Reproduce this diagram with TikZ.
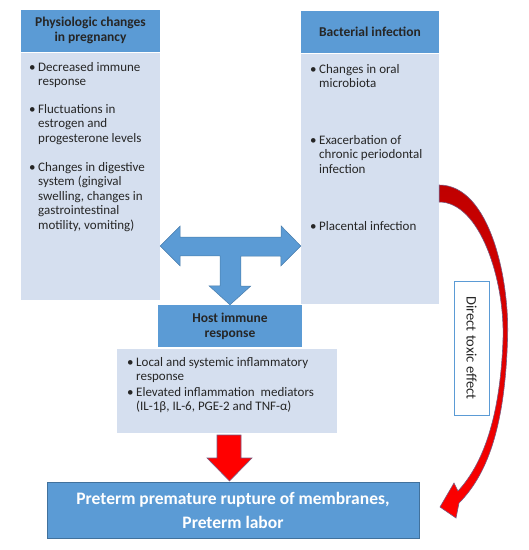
\documentclass[tikz,border=0pt]{standalone}
\usepackage{fontspec}
\setmainfont{Carlito}
\usetikzlibrary{calc}

\definecolor{headblue}{HTML}{5B9BD5}
\definecolor{bodyblue}{HTML}{D5DFEF}
\definecolor{edgeblue}{HTML}{41719C}
\definecolor{edgered}{HTML}{7A5A80}

\newcommand{\bitem}[2]{\makebox[9pt][l]{\textbullet}\parbox[t]{#1}{\raggedright #2}}

\tikzset{
    head/.style={fill=headblue, minimum height=42pt, align=center, inner sep=0pt,
        font=\fontsize{13.5}{15}\selectfont\bfseries, text=black!85},
    body/.style={fill=bodyblue, inner sep=0pt},
    itemtext/.style={anchor=base west, inner sep=0pt,
        font=\fontsize{13}{14.5}\selectfont, text=black!85},
    blockblue/.style={fill=headblue, draw=headblue!80!black, line width=0.5pt},
    blockred/.style={fill=red, draw=edgered, line width=0.6pt},
}

\begin{document}
\begin{tikzpicture}[x=1pt, y=-1pt]
    \useasboundingbox (0,0) rectangle (529,550);

    % columns
    \node[head, minimum width=139pt] (physhead) at (90.5,30.5) {Physiologic changes\\in pregnancy};
    \node[body, minimum width=139pt, minimum height=247pt] (physbody) at (90.5,176.5) {};
    \node[head, minimum width=138pt] (bacthead) at (370,32) {Bacterial infection};
    \node[body, minimum width=138pt, minimum height=250pt] (bactbody) at (370,179) {};

    \node[itemtext] (phys1) at (29,71) {\bitem{120pt}{Decreased immune\\response}};
    \node[itemtext] (phys2) at (29,113) {\bitem{120pt}{Fluctuations in\\estrogen and\\progesterone levels}};
    \node[itemtext] (phys3) at (29,171) {\bitem{120pt}{Changes in digestive\\system (gingival\\swelling, changes in\\gastrointestinal\\motility, vomiting)}};

    \node[itemtext] (bact1) at (310,73) {\bitem{120pt}{Changes in oral\\microbiota}};
    \node[itemtext] (bact2) at (310,144) {\bitem{120pt}{Exacerbation of\\chronic periodontal\\infection}};
    \node[itemtext] (bact3) at (310,230) {\bitem{120pt}{Placental infection}};

    % host response
    \node[head, minimum width=144pt] (hosthead) at (230,326) {Host immune\\response};
    \node[body, minimum width=220pt, minimum height=84pt] (hostbody) at (227,391) {};
    \node[itemtext] (host1) at (127,366) {\bitem{200pt}{Local and systemic inflammatory\\response}};
    \node[itemtext] (host2) at (127,396) {\bitem{200pt}{Elevated inflammation\ \ mediators\\(IL-1β, IL-6, PGE-2 and TNF-α)}};

    \node[fill=headblue, draw=edgeblue, line width=0.8pt, minimum width=372pt, minimum height=56pt,
        align=center, font=\fontsize{17.5}{24}\selectfont\bfseries, text=white]
        (pprom) at (233,510) {Preterm premature rupture of membranes,\\Preterm labor};

    \node[draw=headblue, fill=white, line width=0.6pt, minimum width=134pt, minimum height=35pt,
        rotate=-90, font=\fontsize{14.5}{16}\selectfont, text=black!85]
        (toxic) at (471.5,348) {Direct toxic effect};

    % T arrow
    \coordinate (tjoin) at (230.5,246);
    \draw[blockblue] (physbody.east |- tjoin) -- ++(20,-20) -- ++(0,11) -- ++(101,0) -- ++(0,-11)
        -- (bactbody.west |- tjoin) -- ++(-20,20) -- ++(0,-10) -- ++(-40,0) -- ++(0,30)
        -- ++(10,0) -- (hosthead.north) -- ++(-21,-19) -- ++(11,0) -- ++(0,-30)
        -- ++(-40,0) -- ++(0,10) -- cycle;

    \draw[blockred] (217,435) -- (241,435) -- (241,458) -- (252,458) -- (229.5,481)
        -- (207,458) -- (217,458) -- cycle;

    \draw[top color=red!75!black, bottom color=red, draw=edgered, line width=0.6pt]
        (bactbody.east |- 0,185) .. controls (490,185) and (510,280) .. (507.5,340)
        .. controls (505,420) and (490,472) .. (459,503) -- (456,518) -- (440,507)
        -- (454,483) -- (458,491) .. controls (482,465) and (500,420) .. (503,340)
        .. controls (505,280) and (480,202) .. (bactbody.east |- 0,202) -- cycle;
\end{tikzpicture}
\end{document}
